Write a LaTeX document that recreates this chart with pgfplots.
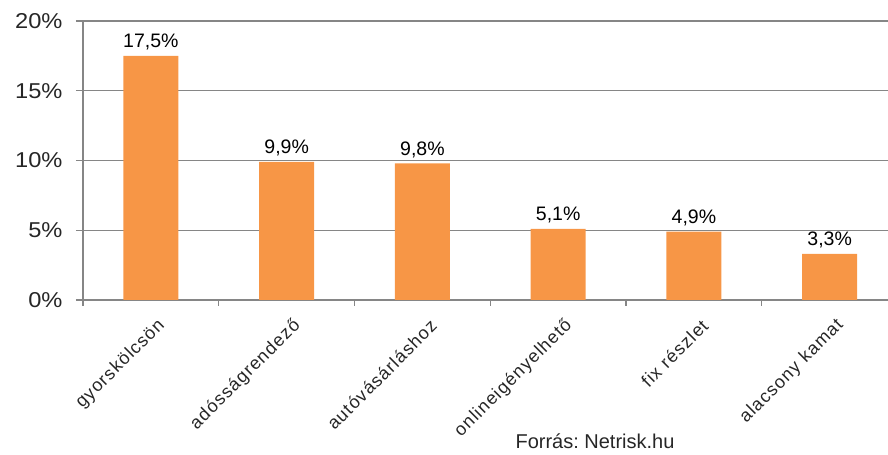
\documentclass[border=0pt]{standalone}
\usepackage{pgfplots}
\pgfplotsset{compat=1.18}
\usepackage{fontspec}
\setmainfont{Liberation Sans}
\newfontfamily\catfont[LetterSpace=6]{Liberation Sans}
\newfontfamily\tickfont[FakeStretch=1.1]{Liberation Sans}
\definecolor{barorange}{HTML}{F79646}
\definecolor{axgray}{HTML}{868686}
\begin{document}
\begin{tikzpicture}[x=1bp,y=1bp]
\useasboundingbox (0,0) rectangle (888,455);
\begin{axis}[
  at={(83bp,155bp)}, anchor=south west,
  scale only axis, width=805bp, height=279bp,
  xmin=-0.5, xmax=5.43, ymin=0, ymax=20,
  axis lines*=left,
  axis line style={axgray, line width=1.2bp},
  ytick={0,5,10,15,20},
  ymajorgrids, grid style={axgray, line width=1.2bp},
  yticklabel={\pgfmathprintnumber{\tick}\%},
  /pgf/number format/assume math mode=true,
  /pgf/number format/use comma,
  ytick style={axgray, line width=1.2bp},
  tick align=outside, major tick length=7bp,
  yticklabel style={font=\tickfont\fontsize{21.5bp}{24bp}\selectfont, text=black!85, xshift=-10bp},
  xtick={0,1,2,3,4,5},
  xticklabels={gyorskölcsön, adósságrendező, autóvásárláshoz, onlineigényelhető, fix részlet, alacsony kamat},
  xtick style={draw=none},
  xticklabel style={rotate=45, anchor=east, font=\catfont\fontsize{18bp}{20bp}\selectfont, text=black!85, yshift=-19bp, xshift=0bp},
  extra x ticks={-0.5,0.5,1.5,2.5,3.5,4.5},
  extra x tick labels={},
  extra x tick style={grid=none, xtick style={draw=axgray, line width=1.2bp}, major tick length=6bp},
  ybar, bar width=0.405,
  nodes near coords={\pgfmathprintnumber[fixed, fixed zerofill, precision=1, use comma]{\pgfplotspointmeta}\%},
  every node near coord/.append style={font=\fontsize{19.5bp}{22bp}\selectfont, text=black, yshift=2bp},
  clip=false,
]
\addplot[fill=barorange, draw=none] coordinates {(0,17.5) (1,9.9) (2,9.8) (3,5.1) (4,4.9) (5,3.3)};
\end{axis}
\node[font=\fontsize{20bp}{22bp}\selectfont, text=black!85] at (595,14) {Forrás:~Netrisk.hu};
\end{tikzpicture}
\end{document}
